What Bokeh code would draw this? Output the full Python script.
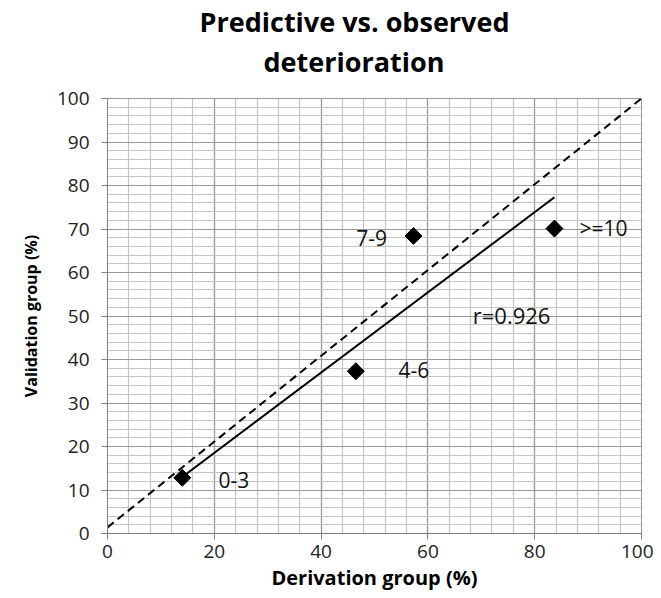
from bokeh.plotting import figure
from bokeh.models import FixedTicker, Label, Range1d, ColumnDataSource, LabelSet, Title
from bokeh.core.properties import value
from bokeh.embed import file_html
from bokeh.resources import INLINE

# data
groups = ["0-3", "4-6", "7-9", ">=10"]
derivation = [14.0, 46.5, 57.3, 83.7]
validation = [12.8, 37.3, 68.4, 70.1]
label_x = [20.8, 54.5, 46.6, 88.4]
label_y = [12.2, 37.7, 68.0, 70.3]

fit_x = [14.0, 83.7]
fit_y = [13.0, 77.3]
ident_x = [0, 100]
ident_y = [1.4, 100]

r_text = "r=0.926"
r_pos = (68.4, 50.3)

title_lines = ["Predictive vs. observed", "deterioration"]

x_major = [0, 20, 40, 60, 80, 100]
x_minor = list(range(0, 101, 4))
y_major = list(range(0, 101, 10))
y_minor = list(range(0, 101, 2))

FONT = "Open Sans"

p = figure(width=653, height=593, output_backend="svg", toolbar_location=None,
           x_range=Range1d(0, 100), y_range=Range1d(0, 100),
           min_border_left=107, min_border_right=12, min_border_top=98, min_border_bottom=60)
p.outline_line_color = "#999999"
p.background_fill_color = "white"
p.border_fill_color = "white"

p.xaxis.ticker = FixedTicker(ticks=x_major, minor_ticks=x_minor)
p.yaxis.ticker = FixedTicker(ticks=y_major, minor_ticks=y_minor)
for ax in (p.xaxis[0], p.yaxis[0]):
    ax.minor_tick_line_color = None
    ax.major_tick_in = 0
    ax.major_tick_out = 6
    ax.axis_line_color = "#808080"
    ax.major_tick_line_color = "#808080"
    ax.major_label_text_font = FONT
    ax.major_label_text_font_size = "19px"
    ax.major_label_text_color = "#222222"
    ax.axis_label_text_font = FONT
    ax.axis_label_text_font_style = "bold"
    ax.axis_label_text_color = "black"

p.xaxis.axis_label = "Derivation group (%)"
p.yaxis.axis_label = "Validation group (%)"
p.xaxis.axis_label_text_font_size = "20px"
p.yaxis.axis_label_text_font_size = "16px"
p.xaxis.major_label_standoff = 5
p.yaxis.major_label_standoff = 12
p.xaxis.axis_label_standoff = 3
p.yaxis.axis_label_standoff = 12

for g in (p.xgrid[0], p.ygrid[0]):
    g.grid_line_color = "#999999"
    g.grid_line_width = 1.2
    g.minor_grid_line_color = "#c4c4c4"
    g.minor_grid_line_width = 1.2

p.line(ident_x, ident_y, line_color="black", line_width=2, line_dash="8 5")
p.line(fit_x, fit_y, line_color="black", line_width=2)
p.scatter(derivation, validation, marker="square", size=12, angle=45, angle_units="deg",
          fill_color="black", line_color="black", line_width=1)

src = ColumnDataSource(dict(x=label_x, y=label_y, t=groups))
p.add_layout(LabelSet(x="x", y="y", text="t", source=src, text_font=value(FONT),
                      text_font_size="21px", text_baseline="middle", text_align="left",
                      text_color="#111111"))
p.add_layout(Label(x=r_pos[0], y=r_pos[1], text=r_text, text_font=FONT, text_font_size="22px",
                   text_baseline="middle", text_align="left", text_color="#111111"))

# spacer between frame and the title lines
p.add_layout(Title(text=" ", text_font=FONT, text_font_size="10px", standoff=2), "above")
p.add_layout(Title(text=title_lines[1], align="left", offset=156, text_font=FONT,
                   text_font_style="bold", text_font_size="27px", text_color="black",
                   standoff=2), "above")
p.add_layout(Title(text=title_lines[0], align="left", offset=92, text_font=FONT,
                   text_font_style="bold", text_font_size="27px", text_color="black",
                   standoff=0), "above")

open("out.html", "w").write(file_html(p, INLINE))
